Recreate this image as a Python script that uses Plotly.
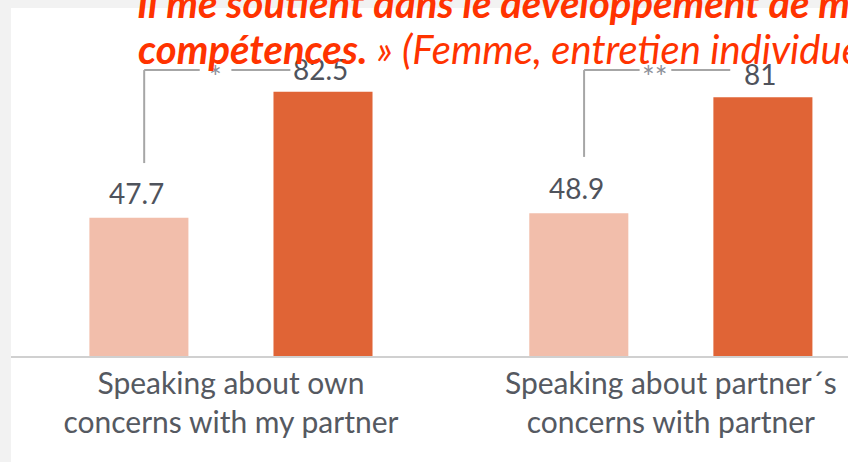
import plotly.graph_objects as go

# ---- data ----
categories = ["Speaking about own<br>concerns with my partner",
              "Speaking about partner´s<br>concerns with partner"]
series_a = [47.7, 48.9]   # light bars
series_b = [82.5, 81.0]   # dark bars
sig_marks = ["*", "**"]
quote_line1 = "Il me soutient dans le développement de mes"
quote_line2_bold = "compétences."
quote_line2_rest = " » (Femme, entretien individuel)"

# ---- style ----
LIGHT = "#F2BEAB"
DARK = "#E06436"
LABEL_COL = "#4f535c"
TICK_COL = "#555961"
FONT = "Lato"
BARGAP = 0.163
BARGROUPGAP = 0.462
OFF = (1 - BARGAP) / 4  # offset of each bar center from category center

x_idx = list(range(len(categories)))

fig = go.Figure()
fig.add_trace(go.Bar(x=x_idx, y=series_a, marker_color=LIGHT,
                     marker_line_width=0, name="A", base=0))
fig.add_trace(go.Bar(x=x_idx, y=series_b, marker_color=DARK,
                     marker_line_width=0, name="B", base=0))

annotations = []
shapes = []
# value labels
for i in x_idx:
    for val, sgn, ys in ((series_a[i], -1, 6), (series_b[i], 1, 4)):
        annotations.append(dict(x=i + sgn * OFF - 0.006, y=val, xref="x", yref="y",
                                text=f"{val:g}", showarrow=False,
                                yanchor="bottom", yshift=ys,
                                font=dict(family=FONT, size=28, color=LABEL_COL)))

# significance brackets
bracket_y = 88.5
bracket_bottom = [62.8, 64.5]
for i in x_idx:
    xl = i - OFF + 0.012
    xr = i + 0.135
    xs = i - 0.035
    gap = 0.036
    line = dict(color="#a6a6a6", width=2)
    shapes.append(dict(type="line", xref="x", yref="y", x0=xl, x1=xl,
                       y0=bracket_bottom[i], y1=bracket_y, line=line))
    shapes.append(dict(type="line", xref="x", yref="y", x0=xl, x1=xs - gap,
                       y0=bracket_y, y1=bracket_y, line=line))
    shapes.append(dict(type="line", xref="x", yref="y", x0=xs + gap, x1=xr,
                       y0=bracket_y, y1=bracket_y, line=line))
    annotations.append(dict(x=xs, y=bracket_y, xref="x", yref="y",
                            text=sig_marks[i], showarrow=False,
                            yanchor="middle", yshift=-6,
                            font=dict(family=FONT, size=30, color="#8c9099")))

# quote text (cut off at the top/right as in the reference)
QUOTE_FONT = dict(family=FONT, size=40, color="#ff3300")
annotations.append(dict(
    x=0.148, y=1.014, xref="paper", yref="paper", xanchor="left",
    yanchor="middle", align="left", showarrow=False,
    text=f"<b><i>{quote_line1}</i></b>", font=QUOTE_FONT))
annotations.append(dict(
    x=0.149, y=0.882, xref="paper", yref="paper", xanchor="left",
    yanchor="middle", align="left", showarrow=False,
    text=f"<i><b>{quote_line2_bold}</b>{quote_line2_rest}</i>", font=QUOTE_FONT))

# white panel over grey page
shapes.append(dict(type="rect", xref="paper", yref="paper", x0=0, x1=1.2,
                   y0=-0.5, y1=1, fillcolor="white", line_width=0, layer="below"))

fig.update_layout(
    width=848, height=462,
    margin=dict(l=11, r=0, t=8, b=106),
    paper_bgcolor="#f2f2f2", plot_bgcolor="white",
    barmode="group", bargap=BARGAP, bargroupgap=BARGROUPGAP,
    showlegend=False,
    annotations=annotations, shapes=shapes,
    xaxis=dict(range=[-0.5, 1.4027], tickmode="array", tickvals=x_idx,
               ticktext=categories, showgrid=False, zeroline=False,
               showline=True, linecolor="#d0d0d0", linewidth=2, ticks="",
               tickfont=dict(family=FONT, size=30, color=TICK_COL)),
    yaxis=dict(range=[9.48, 105.65], visible=False, showgrid=False,
               zeroline=False),
)

fig.write_html("out.html",
               config={"displayModeBar": False},
               post_script="document.body.style.margin='0';"
                           "document.body.style.overflow='hidden';")
